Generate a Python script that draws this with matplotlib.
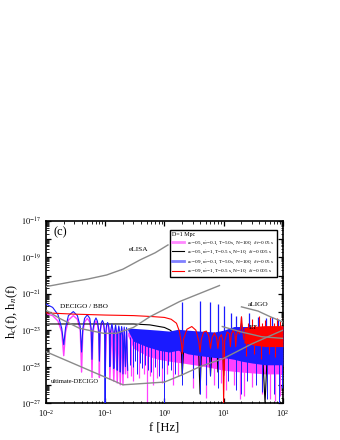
import numpy as np
import matplotlib
matplotlib.use("Agg")
import matplotlib.pyplot as plt
from matplotlib.lines import Line2D
from matplotlib.ticker import LogLocator, FuncFormatter, NullFormatter

# detector noise curves: frequency [Hz] and log10 h_n
elisa_f = [0.01, 0.029, 0.05, 0.106, 0.2, 0.39, 0.7, 1.15]
elisa_lg = [-20.61, -20.33, -20.2, -19.97, -19.65, -19.14, -18.75, -18.32]
decigo_f = [0.01, 0.017, 0.037, 0.093, 0.155, 0.3, 0.57, 1.8, 8.5]
decigo_lg = [-21.9, -22.35, -22.9, -23.17, -23.17, -22.85, -22.26, -21.43, -20.55]
udecigo_f = [0.01, 0.2, 1.0, 2.0, 4.0, 10.0, 30.0, 100.0]
udecigo_lg = [-24.18, -26.0, -25.85, -25.45, -25.0, -24.55, -23.75, -23.0]
aligo_f = [20.0, 38.0, 60.0, 100.0]
aligo_lg = [-21.72, -21.95, -22.25, -22.55]
et_f = [9.5, 20.0, 44.0, 100.0]
et_lg = [-22.8, -23.1, -23.36, -23.45]

# magenta: a_c=0.5, mdot=0.1, T=50 s  (low-frequency lobes)
mag_f = [0.0100, 0.0130, 0.0160, 0.0185, 0.0200, 0.0215, 0.0240, 0.0290, 0.0340, 0.0380,
         0.0400, 0.0420, 0.0450, 0.0500, 0.0550, 0.0580, 0.0600, 0.0620, 0.0660, 0.0700,
         0.0740, 0.0780, 0.0800, 0.0820, 0.0860, 0.0900, 0.0940, 0.0980, 0.1000, 0.1060,
         0.1100, 0.1140, 0.1180, 0.1200, 0.1300, 0.1400, 0.1500, 0.1600, 0.1700, 0.1800,
         0.1900, 0.2000, 0.2100, 0.2200, 0.2300, 0.2400]
mag_lg = [-22.1, -22.2, -22.5, -23.1, -24.4, -23.1, -22.45, -22.2, -22.4, -23.0,
          -25.3, -23.1, -22.55, -22.35, -22.55, -23.1, -25.6, -23.2, -22.65, -22.5,
          -22.65, -23.2, -25.6, -23.2, -22.7, -22.6, -22.7, -23.2, -25.4, -22.8,
          -22.68, -22.8, -23.3, -25.7, -22.75, -25.8, -22.82, -25.9, -22.86, -26.0,
          -22.9, -26.0, -22.95, -25.4, -23.0, -25.6]
# magenta dense band and dips
mag_band_f = [0.24, 0.3, 0.5, 0.8, 1.2, 2.0, 5.0, 10.0, 20.0, 50.0, 100.0]
mag_band_hi = [-23.1, -23.15, -23.2, -23.25, -23.3, -23.3, -23.3, -23.2, -23.1, -23.1, -23.1]
mag_band_lo = [-23.3, -24.0, -24.4, -24.6, -24.7, -24.8, -25.0, -25.2, -25.3, -25.4, -25.4]
mag_dip_f = [0.27, 0.3, 0.37, 0.45, 0.5, 0.58, 0.65, 0.75, 0.9, 1.1, 1.4, 1.7, 3.0, 5.0,
             7.0, 9.0, 11.0, 15.0, 19.0, 22.0, 30.0, 45.0, 60.0, 75.0, 90.0]
mag_dip_lg = [-25.5, -25.8, -25.6, -25.4, -27.0, -25.5, -26.0, -25.6, -25.9, -25.4, -26.0,
              -25.5, -26.2, -26.7, -26.0, -25.9, -26.3, -26.0, -26.8, -26.6, -26.1, -26.5,
              -26.8, -26.9, -26.6]

# black: a_c=0.5, mdot=1, T=0.5 s
blk_f = [0.01, 0.3, 0.57, 1.0, 1.24, 1.5, 1.8, 1.95, 2.0, 2.1, 2.5, 2.9, 3.4, 3.8, 4.0, 4.2,
         5.0, 5.8, 6.0, 6.3, 7.0, 7.8, 8.0, 8.3, 9.0, 9.8, 10.0, 10.5, 12.0, 14.0, 16.0,
         18.0, 20.0, 22.0, 25.0, 28.0, 32.0, 36.0, 40.0, 45.0, 50.0, 55.0, 60.0, 70.0,
         80.0, 90.0, 100.0]
blk_lg = [-22.66, -22.66, -22.71, -22.85, -22.99, -23.2, -23.5, -24.3, -25.5, -24.2, -23.6,
          -23.5, -23.7, -24.3, -26.5, -24.3, -23.7, -24.3, -25.5, -24.2, -23.8, -24.3,
          -25.3, -24.3, -23.9, -24.5, -25.5, -24.2, -23.8, -24.0, -24.5, -23.6, -22.62,
          -23.8, -24.3, -23.7, -24.5, -23.8, -23.2, -24.0, -27.0, -24.0, -23.4, -24.2,
          -23.5, -24.0, -23.6]

# blue: a_c=0.9, mdot=0.1, T=50 s (low-frequency lobes)
blu_f = [0.0100, 0.0130, 0.0160, 0.0185, 0.0200, 0.0215, 0.0240, 0.0290, 0.0340, 0.0380,
         0.0400, 0.0420, 0.0450, 0.0500, 0.0550, 0.0580, 0.0600, 0.0620, 0.0660, 0.0700,
         0.0740, 0.0780, 0.0800, 0.0820, 0.0860, 0.0900, 0.0940, 0.0980, 0.1000, 0.1020,
         0.1060, 0.1100, 0.1140, 0.1180, 0.1200, 0.1230, 0.1300, 0.1370, 0.1400, 0.1430,
         0.1500, 0.1570, 0.1600, 0.1630, 0.1700, 0.1770, 0.1800, 0.1830, 0.1900, 0.1970,
         0.2000, 0.2100, 0.2200, 0.2300, 0.2400]
blu_lg = [-21.56, -21.75, -22.15, -22.9, -23.8, -22.85, -22.2, -21.98, -22.2, -22.8,
          -24.2, -22.9, -22.35, -22.16, -22.35, -22.9, -24.6, -23.0, -22.5, -22.33,
          -22.5, -23.0, -24.7, -23.1, -22.6, -22.47, -22.6, -23.1, -27.0, -23.2,
          -22.7, -22.58, -22.7, -23.2, -25.0, -23.1, -22.66, -23.1, -25.1, -23.2,
          -22.72, -23.2, -25.2, -23.2, -22.77, -23.2, -25.3, -23.3, -22.8, -23.3,
          -25.4, -22.83, -25.0, -22.86, -25.2]
# blue dense band, spikes and dips
blu_band_f = [0.24, 0.3, 0.5, 0.8, 1.2, 1.7, 2.5, 4.0, 7.0, 10.0, 15.0, 20.0, 30.0, 50.0, 100.0]
blu_band_hi = [-22.88, -22.9, -22.95, -23.0, -23.05, -22.95, -23.0, -23.05, -23.1, -23.0,
               -22.8, -22.8, -22.8, -22.8, -22.8]
blu_band_lo = [-23.0, -23.6, -23.9, -24.1, -24.2, -24.1, -24.3, -24.4, -24.5, -24.5,
               -24.6, -24.7, -24.8, -24.9, -24.9]
blu_spike_f = [2.0, 4.0, 6.0, 8.0, 10.0, 13.5, 16.0, 20.0, 27.0, 38.0, 52.0, 65.0, 82.0]
blu_spike_lg = [-21.45, -21.4, -21.45, -21.55, -21.7, -22.05, -22.2, -22.3, -22.05, -22.25,
                -22.35, -22.3, -22.4]
blu_dip_f = [0.26, 0.29, 0.32, 0.35, 0.39, 0.42, 0.47, 0.53, 0.6, 0.7, 0.8, 0.9, 1.0, 1.15,
             1.3, 1.5, 2.0, 3.0, 4.0, 5.0, 6.0, 8.0, 12.0, 16.0, 20.0, 25.0, 35.0, 45.0,
             55.0, 70.0, 85.0, 95.0]
blu_dip_lg = [-24.9, -25.0, -24.7, -25.4, -24.8, -25.1, -24.9, -25.2, -25.3, -25.0, -25.5,
              -25.1, -27.0, -24.9, -25.2, -25.4, -26.0, -25.6, -26.5, -26.0, -25.5, -26.2,
              -25.8, -26.3, -26.5, -25.8, -26.0, -26.4, -26.8, -26.5, -27.0, -26.2]

# red: a_c=0.9, mdot=1, T=0.5 s
red_f = [0.01, 0.03, 0.1, 0.3, 0.6, 1.0, 1.3, 1.6, 1.8, 1.95, 2.0, 2.1, 2.4, 2.9, 3.4, 3.8,
         4.0, 4.2, 4.6, 5.1, 5.6, 6.0, 6.4, 7.0, 7.6, 8.0, 8.5, 9.2, 9.7, 10.0, 10.4, 11.5,
         12.5, 13.0, 13.5, 14.5, 15.5, 16.0, 16.5, 17.5, 18.5, 19.3, 20.0, 20.7, 22.0]
red_lg = [-22.05, -22.12, -22.17, -22.2, -22.25, -22.3, -22.4, -22.62, -23.08, -23.8, -24.3,
          -23.5, -22.95, -22.8, -23.0, -23.6, -24.2, -23.5, -23.1, -23.05, -23.3, -24.0,
          -23.4, -23.15, -23.4, -24.0, -23.4, -23.25, -23.6, -27.0, -23.6, -23.1, -23.2,
          -23.9, -23.2, -23.0, -23.2, -23.9, -23.3, -23.0, -23.2, -22.9, -22.26, -22.9,
          -23.5]
red_band_f = [22.0, 30.0, 50.0, 100.0]
red_band_hi = [-22.85, -22.8, -22.75, -22.75]
red_band_lo = [-23.7, -23.8, -23.9, -23.9]
red_spike_f = [26.0, 30.0, 34.0, 40.0, 45.0, 50.0, 60.0, 70.0, 80.0, 90.0, 100.0]
red_spike_lg = [-22.6, -22.4, -22.7, -22.2, -22.6, -22.45, -22.3, -22.6, -22.35, -22.5, -22.3]
red_dip_f = [24.0, 33.0, 42.0, 58.0, 75.0]
red_dip_lg = [-24.4, -24.3, -24.6, -24.3, -24.5]

legend_labels = [
    r"a$_c$=0.5, $\dot{m}$=0.1, T=50 s, N=100,  $\delta t$=0.05 s",
    r"a$_c$=0.5, $\dot{m}$=1, T=0.5 s, N=10,  $\delta t$=0.005 s",
    r"a$_c$=0.9, $\dot{m}$=0.1, T=50 s, N=100,  $\delta t$=0.05 s",
    r"a$_c$=0.9, $\dot{m}$=1, T=0.5 s, N=10,  $\delta t$=0.005 s",
]


def p(vals):
    return 10.0 ** np.asarray(vals)


plt.rcParams["font.family"] = ["Liberation Serif", "DejaVu Serif"]
plt.rcParams["mathtext.fontset"] = "stix"

fig = plt.figure(figsize=(3.4, 4.4), dpi=100)
ax = fig.add_axes([0.135, 0.084, 0.697, 0.414])

magenta = "#ff40ff"
blue = "#1a1aff"
gray = "#8a8a8a"

# magenta (bottom layer)
ax.fill_between(mag_band_f, p(mag_band_lo), p(mag_band_hi), color=magenta, lw=0, zorder=2)
ax.plot(mag_f, p(mag_lg), color=magenta, lw=1.0, zorder=2)
ax.vlines(mag_dip_f, p(mag_dip_lg), 10 ** -23.6, color=magenta, lw=0.9, zorder=2)

# black
ax.plot(blk_f, p(blk_lg), color="k", lw=0.8, zorder=3)

# blue
ax.fill_between(blu_band_f, p(blu_band_lo), p(blu_band_hi), color=blue, lw=0, zorder=4)
ax.plot(blu_f, p(blu_lg), color=blue, lw=0.8, zorder=4)
ax.vlines(blu_spike_f, 10 ** -23.4, p(blu_spike_lg), color=blue, lw=0.9, zorder=4)
ax.vlines(blu_dip_f, p(blu_dip_lg), 10 ** -23.4, color=blue, lw=0.7, zorder=4)

# red
ax.plot(red_f, p(red_lg), color="red", lw=0.8, zorder=5)
ax.fill_between(red_band_f, p(red_band_lo), p(red_band_hi), color="red", lw=0, zorder=5)
ax.vlines(red_spike_f, 10 ** -23.2, p(red_spike_lg), color="red", lw=0.8, zorder=5)
ax.vlines(red_dip_f, p(red_dip_lg), 10 ** -23.2, color="red", lw=0.8, zorder=5)

# detector sensitivities
for fx, lg in [(elisa_f, elisa_lg), (decigo_f, decigo_lg), (udecigo_f, udecigo_lg),
               (aligo_f, aligo_lg), (et_f, et_lg)]:
    ax.plot(fx, p(lg), color=gray, lw=1.0, zorder=6)

ax.text(0.39, 0.841, "eLISA", transform=ax.transAxes, fontsize=5.3, ha="center", va="center")
ax.text(0.059, 0.529, "DECIGO / BBO", transform=ax.transAxes, fontsize=5.2, ha="left", va="center")
ax.text(0.02, 0.117, "ultimate-DECIGO", transform=ax.transAxes, fontsize=4.7, ha="left",
        va="center", zorder=7)
ax.text(0.895, 0.542, "aLIGO", transform=ax.transAxes, fontsize=5.3, ha="center", va="center")
ax.text(0.876, 0.412, "ET", transform=ax.transAxes, fontsize=5.3, ha="center", va="center", zorder=7)
ax.text(0.06, 0.94, "(c)", transform=ax.transAxes, fontsize=9, ha="center", va="center")

ax.set_xscale("log")
ax.set_yscale("log")
ax.set_xlim(1e-2, 1e2)
ax.set_ylim(1e-27, 1e-17)

ax.yaxis.set_major_locator(LogLocator(base=10, numticks=20))
ax.yaxis.set_minor_locator(LogLocator(base=10, subs=np.arange(2, 10), numticks=20))
ax.yaxis.set_major_formatter(FuncFormatter(
    lambda v, pos: r"$10^{%d}$" % round(np.log10(v)) if round(np.log10(v)) % 2 else ""))
ax.yaxis.set_minor_formatter(NullFormatter())
ax.xaxis.set_minor_locator(LogLocator(base=10, subs=np.arange(2, 10), numticks=20))
ax.xaxis.set_minor_formatter(NullFormatter())

ax.tick_params(which="both", direction="in", top=True, right=True, labelsize=6)
ax.tick_params(which="major", length=3.5, width=0.9)
ax.tick_params(which="minor", length=1.8, width=0.6)
for s in ax.spines.values():
    s.set_linewidth(1.2)

ax.set_xlabel("f [Hz]", fontsize=9, labelpad=2)
ax.set_ylabel(r"h$_c$(f), h$_n$(f)", fontsize=9, labelpad=1)

handles = [Line2D([], [], color="#ff88ff", lw=2.0), Line2D([], [], color="k", lw=0.8),
           Line2D([], [], color="#8080ff", lw=2.0), Line2D([], [], color="red", lw=0.8)]
leg = ax.legend(handles, legend_labels, title="D=1 Mpc", loc="upper right",
                bbox_to_anchor=(0.978, 0.955), fontsize=3.7, title_fontsize=4.3,
                frameon=True, fancybox=False, framealpha=1, edgecolor="k",
                handlelength=2.3, handletextpad=0.6, borderpad=0.4, labelspacing=0.45,
                borderaxespad=0.2, alignment="left")
leg.get_frame().set_linewidth(1.0)
leg.set_zorder(10)

fig.savefig("out.png", dpi=100)
